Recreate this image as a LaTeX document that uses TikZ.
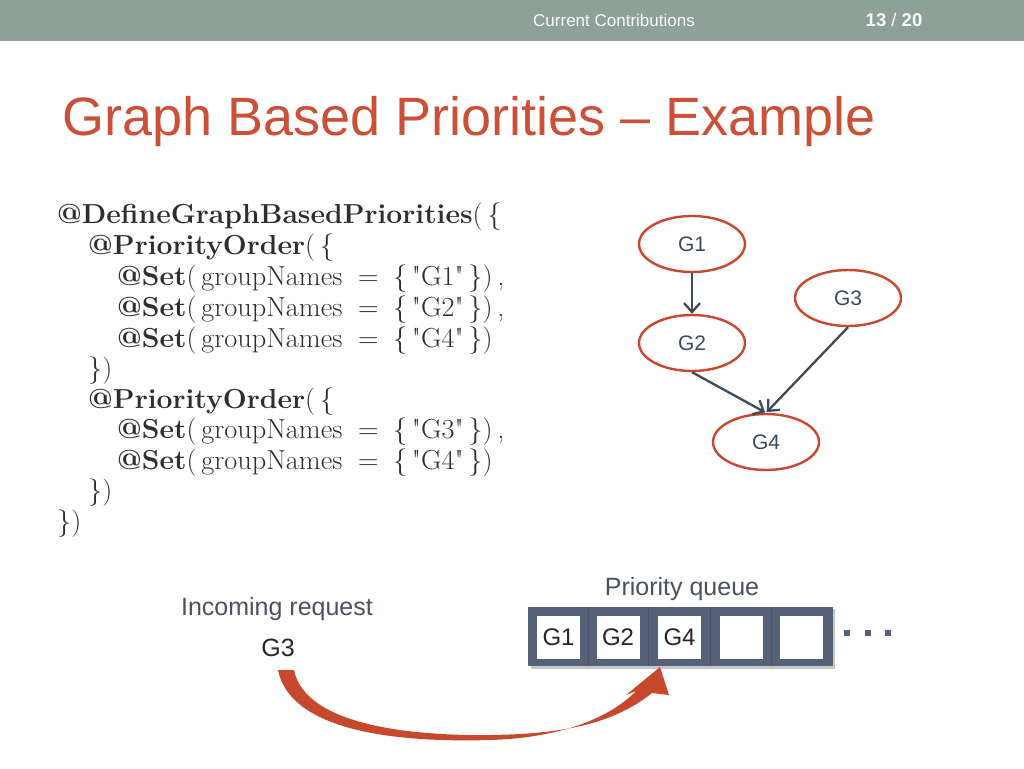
\documentclass[tikz,border=0pt]{standalone}
\usepackage{fontspec}
\newfontfamily\sansf{Liberation Sans}
\usetikzlibrary{shapes.geometric,arrows.meta}
\definecolor{hdr}{HTML}{8FA098}
\definecolor{ttl}{HTML}{CC5038}
\definecolor{ered}{HTML}{C9472F}
\definecolor{slate}{HTML}{3E4A5A}
\definecolor{qfr}{HTML}{566079}
\definecolor{txtg}{HTML}{4A5260}
\definecolor{arr}{HTML}{C8482E}
\newcommand\kw[1]{\textbf{#1}}
\newcommand\qq{\textquotedbl}
\tikzset{
  code/.style={anchor=base west, inner sep=0pt, font=\fontsize{27.5}{30}\selectfont, text=black!82, xscale=1.03},
  gnode/.style={ellipse, draw=ered, line width=2.4pt, minimum width=106pt, minimum height=56pt, inner sep=0pt, text=slate, font=\sansf\fontsize{21}{24}\selectfont},
  garrow/.style={draw=slate, line width=2.3pt, -{Straight Barb[length=9pt,width=16pt,line width=2.3pt]}},
  cell/.style={fill=white, minimum width=43pt, minimum height=43pt, inner sep=0pt, text=black!85, font=\sansf\fontsize{24}{26}\selectfont},
  lbl/.style={inner sep=0pt, font=\sansf\fontsize{25}{28}\selectfont, text=txtg},
  dot/.style={fill=qfr, minimum size=6pt, inner sep=0pt},
  sep/.style={draw=qfr!85!black, line width=0.8pt}
}
\begin{document}
\begin{tikzpicture}[x=1pt,y=-1pt]
\useasboundingbox (0,0) rectangle (1024,768);
\fill[white] (0,0) rectangle (1024,768);
% header
\fill[hdr] (0,0) rectangle (1024,41);
\node[inner sep=0pt, text=white!95!hdr, font=\sansf\fontsize{17}{18}\selectfont] (hl) at (614,20) {Current Contributions};
\node[inner sep=0pt, text=white!95!hdr, font=\sansf\fontsize{18.5}{20}\selectfont] (hp) at (894,20) {\textbf{13} / \textbf{20}};
% title
\node[anchor=base west, inner sep=0pt, text=ttl, font=\sansf\fontsize{54}{60}\selectfont] (title) at (62,135) {Graph Based Priorities – Example};
% code
\node[code] (c1) at (57,223) {\kw{@DefineGraphBasedPriorities}(\,\{};
\node[code] (c2) at (88,254) {\kw{@PriorityOrder}(\,\{};
\node[code] (c3) at (117,285) {\kw{@Set}(\,groupNames};
\node[code] (c3r) at (358,285) {=\hspace{14pt}\{\,\qq G1\qq\,\})\,,};
\node[code] (c4) at (117,316) {\kw{@Set}(\,groupNames};
\node[code] (c4r) at (358,316) {=\hspace{14pt}\{\,\qq G2\qq\,\})\,,};
\node[code] (c5) at (117,347) {\kw{@Set}(\,groupNames};
\node[code] (c5r) at (358,347) {=\hspace{14pt}\{\,\qq G4\qq\,\})};
\node[code] (c6) at (88,377) {\})};
\node[code] (c7) at (88,408) {\kw{@PriorityOrder}(\,\{};
\node[code] (c8) at (117,438) {\kw{@Set}(\,groupNames};
\node[code] (c8r) at (358,438) {=\hspace{14pt}\{\,\qq G3\qq\,\})\,,};
\node[code] (c9) at (117,469) {\kw{@Set}(\,groupNames};
\node[code] (c9r) at (358,469) {=\hspace{14pt}\{\,\qq G4\qq\,\})};
\node[code] (c10) at (88,499) {\})};
\node[code] (c11) at (57,530) {\})};
% graph
\node[gnode] (g1) at (692,244) {G1};
\node[gnode] (g2) at (692,343) {G2};
\node[gnode] (g3) at (848,298) {G3};
\node[gnode] (g4) at (766,442) {G4};
\draw[garrow] (g1) -- (g2);
\draw[garrow, shorten >=1pt] (g2.south) -- (g4.north);
\draw[garrow, shorten >=1pt] (g3.south) -- (g4.north);
% queue
\node[lbl] (pq) at (682,589) {Priority queue};
\fill[black!22] (531,609) rectangle (835,669);
\node[fill=qfr, minimum width=305pt, minimum height=59pt, inner sep=0pt] (q) at (680,636.5) {};
\draw[sep] (588,607) -- (588,666);
\draw[sep] (648,607) -- (648,666);
\draw[sep] (710,607) -- (710,666);
\draw[sep] (771,607) -- (771,666);
\node[cell] (q1) at (558.5,637) {G1};
\node[cell] (q2) at (618,637) {G2};
\node[cell] (q3) at (679.5,637) {G4};
\node[cell] (q4) at (741,637) {};
\node[cell] (q5) at (801,637) {};
\node[dot] (d1) at (847,633) {};
\node[dot] (d2) at (868,633) {};
\node[dot] (d3) at (888,633) {};
% incoming
\node[lbl] (inc) at (277,609) {Incoming request};
\node[lbl, text=black!85] (g3in) at (278,648) {G3};
% curved arrow
\fill[arr] (278,670) .. controls (292,738) and (420,742) .. (490,740)
  .. controls (560,738) and (610,718) .. (636,691)
  -- (626,695) -- (660,667) -- (669,695) -- (652,693)
  .. controls (612,725) and (560,734) .. (490,735)
  .. controls (410,736) and (305,725) .. (294,670) -- cycle;
\end{tikzpicture}
\end{document}
